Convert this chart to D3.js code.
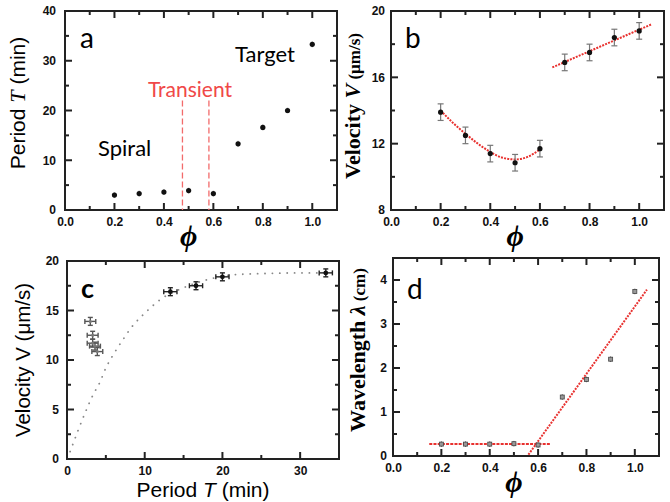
<!DOCTYPE html>
<html>
<head>
<meta charset="utf-8">
<script src="https://cdn.jsdelivr.net/npm/d3@7"></script>
<style>
  body { margin: 0; background: #fff; }
  svg { display: block; }
</style>
</head>
<body>
<div id="chart"></div>
<script>
// data
var phi = [0.2, 0.3, 0.4, 0.5, 0.6, 0.7, 0.8, 0.9, 1.0];
var periodT = [3.0, 3.3, 3.6, 3.9, 3.3, 13.3, 16.6, 20.0, 33.3];
var periodErr = [0.6, 0.6, 0.6, 0.6, 0.6, 0.6, 0.6, 0.6, 0.6];
var velocityV = [13.9, 12.5, 11.4, 10.85, 11.7, 16.9, 17.5, 18.4, 18.8];
var velocityErr = [0.5, 0.5, 0.5, 0.5, 0.5, 0.5, 0.5, 0.5, 0.5];
var wavelength = [0.27, 0.27, 0.27, 0.28, 0.25, 1.34, 1.74, 2.2, 3.74];
var wavelengthErr = [0.04, 0.04, 0.04, 0.04, 0.04, 0.04, 0.04, 0.04, 0.04];
var cPeriodErr = [0.7, 0.7, 0.7, 0.7, 0.7, 0.85, 0.85, 0.85, 0.85];
var cVelocityErr = [0.4, 0.4, 0.4, 0.4, 0.4, 0.4, 0.4, 0.4, 0.4];
var transientPhi = [0.475, 0.582];
var transientTop = 22;
// fitted curves as they appear
var spiralFitPhi = [0.2, 0.25, 0.3, 0.35, 0.4, 0.45, 0.5, 0.55, 0.6];
var spiralFitV = [14.0, 13.25, 12.6, 12.0, 11.5, 11.15, 11.05, 11.2, 11.65];
var targetFitPhi = [0.65, 1.05];
var targetFitV = [16.6, 19.2];
var satCurveT = [0.4, 2.35, 3.3, 4.2, 5.0, 6.0, 7.15, 8.4, 10.1, 12.0, 15.0, 18.0, 21.4, 26, 30, 32.5];
var satCurveV = [0.75, 4.7, 6.4, 7.7, 9.2, 10.6, 12.0, 13.4, 14.8, 16.1, 17.3, 18.1, 18.6, 18.75, 18.8, 18.8];
var lamFlatPhi = [0.15, 0.65];
var lamFlat = [0.27, 0.27];
var lamRisePhi = [0.56, 1.05];
var lamRise = [0.03, 3.78];

var phiMajor = [0, 0.2, 0.4, 0.6, 0.8, 1.0];
var phiMinor = [0.1, 0.3, 0.5, 0.7, 0.9];

var svg = d3.select("#chart").append("svg")
  .attr("width", 670)
  .attr("height", 502);

var red = "#e8312f";
var sans = "'Liberation Sans', Arial, sans-serif";
var serif = "'Liberation Serif', 'Times New Roman', serif";
var label = "Lato, 'Open Sans', sans-serif";

// inward tick marks on all four sides of the box
function tickMarks(g, x, y, w, h, vals, len, horiz) {
  var s = horiz ? x : y;
  vals.forEach(function(v) {
    if (horiz) {
      g.append("line").attr("x1", s(v)).attr("x2", s(v)).attr("y1", h).attr("y2", h - len);
      g.append("line").attr("x1", s(v)).attr("x2", s(v)).attr("y1", 0).attr("y2", len);
    } else {
      g.append("line").attr("x1", 0).attr("x2", len).attr("y1", s(v)).attr("y2", s(v));
      g.append("line").attr("x1", w).attr("x2", w - len).attr("y1", s(v)).attr("y2", s(v));
    }
  });
}

function makePanel(left, top, w, h, xDom, yDom, t) {
  var g = svg.append("g").attr("transform", "translate(" + left + "," + top + ")");
  var x = d3.scaleLinear().domain(xDom).range([0, w]);
  var y = d3.scaleLinear().domain(yDom).range([h, 0]);

  // labels from the axes, marks drawn by hand
  g.append("g").attr("class", "ax").attr("transform", "translate(0," + h + ")")
    .call(d3.axisBottom(x).tickValues(t.xMajor).tickSize(0).tickPadding(7).tickFormat(t.xFmt));
  g.append("g").attr("class", "ax")
    .call(d3.axisLeft(y).tickValues(t.yMajor).tickSize(0).tickPadding(t.yPad || 6).tickFormat(t.yFmt));
  g.selectAll(".ax .domain").remove();
  g.selectAll(".ax .tick line").remove();
  g.selectAll(".ax .tick text")
    .style("font-family", sans).style("font-weight", "bold").style("font-size", "12px").attr("fill", "#111");

  var tg = g.append("g").attr("stroke", "#222").attr("stroke-width", 2);
  tickMarks(tg, x, y, w, h, t.xMajor, 7, true);
  tickMarks(tg, x, y, w, h, t.xMinor, 4, true);
  tickMarks(tg, x, y, w, h, t.yMajor, 7, false);
  tickMarks(tg, x, y, w, h, t.yMinor, 4, false);

  g.append("rect").attr("width", w).attr("height", h)
    .attr("fill", "none").attr("stroke", "#222").attr("stroke-width", 2);
  return {g: g, x: x, y: y};
}

function phiLabel(p) {
  p.g.append("text")
    .attr("x", p.x(0.5)).attr("y", p.y.range()[0] + 36)
    .attr("text-anchor", "middle")
    .style("font-family", serif).style("font-style", "italic").style("font-weight", "bold")
    .style("font-size", "30px")
    .text("ϕ");
}

function yLabel(p, cx, cy, parts) {
  var t = p.g.append("text")
    .attr("transform", "translate(" + cx + "," + cy + ") rotate(-90)")
    .attr("text-anchor", "middle");
  parts.forEach(function(s) {
    var ts = t.append("tspan").text(s.text)
      .style("font-family", s.family).style("font-size", s.size + "px");
    if (s.bold) ts.style("font-weight", "bold");
    if (s.italic) ts.style("font-style", "italic");
  });
  return t;
}

var f1 = d3.format(".1f");
var f0 = d3.format("d");

// ---- panel a ----
var pa = makePanel(65, 11, 272, 199, [0, 1.1], [0, 40], {
  xMajor: phiMajor, xMinor: phiMinor, xFmt: f1,
  yMajor: [0, 10, 20, 30, 40], yMinor: [5, 15, 25, 35], yFmt: f0, yPad: 9
});
pa.g.selectAll(".transient").data(transientPhi).enter().append("line")
  .attr("x1", function(v) { return pa.x(v); }).attr("x2", function(v) { return pa.x(v); })
  .attr("y1", pa.y(transientTop)).attr("y2", pa.y(0))
  .attr("stroke", "#f26b6b").attr("stroke-width", 1.3).attr("stroke-dasharray", "6,3");
pa.g.selectAll(".err").data(phi).enter().append("line")
  .attr("x1", function(v) { return pa.x(v); }).attr("x2", function(v) { return pa.x(v); })
  .attr("y1", function(v, i) { return pa.y(periodT[i] - periodErr[i]); })
  .attr("y2", function(v, i) { return pa.y(periodT[i] + periodErr[i]); })
  .attr("stroke", "#bbb").attr("stroke-width", 1.5);
pa.g.selectAll(".pt").data(phi).enter().append("circle")
  .attr("cx", function(v) { return pa.x(v); })
  .attr("cy", function(v, i) { return pa.y(periodT[i]); })
  .attr("r", 2.6).attr("fill", "#111");
pa.g.append("text").attr("x", 15).attr("y", 37).style("font-family", label).style("font-size", "28px").text("a");
pa.g.append("text").attr("x", 170).attr("y", 51).style("font-family", label).style("font-size", "22px").text("Target");
pa.g.append("text").attr("x", 33).attr("y", 145).style("font-family", label).style("font-size", "22px").text("Spiral");
pa.g.append("text").attr("x", 125).attr("y", 86).attr("text-anchor", "middle")
  .style("font-family", label).style("font-size", "21px").attr("fill", "#f04848").text("Transient");
phiLabel(pa);
yLabel(pa, -40, 92, [
  {text: "Period ", family: sans, size: 21},
  {text: "T", family: serif, size: 22, italic: true},
  {text: " (min)", family: sans, size: 21}
]);

// ---- panel b ----
var pb = makePanel(391, 11, 273, 199, [0, 1.1], [8, 20], {
  xMajor: phiMajor, xMinor: phiMinor, xFmt: f1,
  yMajor: [8, 12, 16, 20], yMinor: [10, 14, 18], yFmt: f0, yPad: 6
});
var fitLine = d3.line().curve(d3.curveMonotoneX);
pb.g.append("path")
  .attr("d", fitLine(spiralFitPhi.map(function(p, i) { return [pb.x(p), pb.y(spiralFitV[i])]; })))
  .attr("fill", "none").attr("stroke", red).attr("stroke-width", 2).attr("stroke-dasharray", "2,1.2");
pb.g.append("path")
  .attr("d", fitLine(targetFitPhi.map(function(p, i) { return [pb.x(p), pb.y(targetFitV[i])]; })))
  .attr("fill", "none").attr("stroke", red).attr("stroke-width", 2).attr("stroke-dasharray", "2,1.2");
var bErr = pb.g.selectAll(".err").data(phi).enter().append("g").attr("stroke", "#777").attr("stroke-width", 1.2);
bErr.append("line")
  .attr("x1", function(v) { return pb.x(v); }).attr("x2", function(v) { return pb.x(v); })
  .attr("y1", function(v, i) { return pb.y(velocityV[i] - velocityErr[i]); })
  .attr("y2", function(v, i) { return pb.y(velocityV[i] + velocityErr[i]); });
[-1, 1].forEach(function(s) {
  bErr.append("line")
    .attr("x1", function(v) { return pb.x(v) - 3; }).attr("x2", function(v) { return pb.x(v) + 3; })
    .attr("y1", function(v, i) { return pb.y(velocityV[i] + s * velocityErr[i]); })
    .attr("y2", function(v, i) { return pb.y(velocityV[i] + s * velocityErr[i]); });
});
pb.g.selectAll(".pt").data(phi).enter().append("circle")
  .attr("cx", function(v) { return pb.x(v); })
  .attr("cy", function(v, i) { return pb.y(velocityV[i]); })
  .attr("r", 2.6).attr("fill", "#111");
pb.g.append("text").attr("x", 14).attr("y", 37).style("font-family", label).style("font-size", "28px").text("b");
phiLabel(pb);
yLabel(pb, -31, 95, [
  {text: "Velocity ", family: serif, size: 22, bold: true},
  {text: "V", family: serif, size: 22, bold: true, italic: true},
  {text: " (μm/s)", family: serif, size: 17, bold: true}
]);

// ---- panel c ----
var pc = makePanel(67, 261, 272, 198, [0, 35], [0, 20], {
  xMajor: [0, 10, 20, 30], xMinor: [5, 15, 25], xFmt: f0,
  yMajor: [0, 5, 10, 15, 20], yMinor: [2.5, 7.5, 12.5, 17.5], yFmt: f0, yPad: 8
});
pc.g.append("path")
  .attr("d", fitLine(satCurveT.map(function(t, i) { return [pc.x(t), pc.y(satCurveV[i])]; })))
  .attr("fill", "none").attr("stroke", "#888").attr("stroke-width", 1.8)
  .attr("stroke-linecap", "round").attr("stroke-dasharray", "0.1,7.3");
var cErr = pc.g.selectAll(".err").data(phi).enter().append("g")
  .attr("stroke", function(v, i) { return i < 5 ? "#555" : "#222"; }).attr("stroke-width", 1.4);
cErr.append("line")
  .attr("x1", function(v, i) { return pc.x(periodT[i] - cPeriodErr[i]); })
  .attr("x2", function(v, i) { return pc.x(periodT[i] + cPeriodErr[i]); })
  .attr("y1", function(v, i) { return pc.y(velocityV[i]); })
  .attr("y2", function(v, i) { return pc.y(velocityV[i]); });
cErr.append("line")
  .attr("x1", function(v, i) { return pc.x(periodT[i]); })
  .attr("x2", function(v, i) { return pc.x(periodT[i]); })
  .attr("y1", function(v, i) { return pc.y(velocityV[i] - cVelocityErr[i]); })
  .attr("y2", function(v, i) { return pc.y(velocityV[i] + cVelocityErr[i]); });
[-1, 1].forEach(function(s) {
  cErr.append("line")
    .attr("x1", function(v, i) { return pc.x(periodT[i] + s * cPeriodErr[i]); })
    .attr("x2", function(v, i) { return pc.x(periodT[i] + s * cPeriodErr[i]); })
    .attr("y1", function(v, i) { return pc.y(velocityV[i]) - 2.5; })
    .attr("y2", function(v, i) { return pc.y(velocityV[i]) + 2.5; });
  cErr.append("line")
    .attr("x1", function(v, i) { return pc.x(periodT[i]) - 2.5; })
    .attr("x2", function(v, i) { return pc.x(periodT[i]) + 2.5; })
    .attr("y1", function(v, i) { return pc.y(velocityV[i] + s * cVelocityErr[i]); })
    .attr("y2", function(v, i) { return pc.y(velocityV[i] + s * cVelocityErr[i]); });
});
pc.g.selectAll(".pt").data(phi).enter().append("circle")
  .attr("cx", function(v, i) { return pc.x(periodT[i]); })
  .attr("cy", function(v, i) { return pc.y(velocityV[i]); })
  .attr("r", function(v, i) { return i < 5 ? 1.5 : 2.4; })
  .attr("fill", function(v, i) { return i < 5 ? "#777" : "#111"; });
pc.g.append("text").attr("x", 14).attr("y", 37).style("font-family", label).style("font-weight", "bold").style("font-size", "27px").text("c");
yLabel(pc, -37, 99, [
  {text: "Velocity V (μm/s)", family: sans, size: 20.5}
]);
pc.g.append("text").attr("x", pc.x(17.5)).attr("y", 236).attr("text-anchor", "middle")
  .style("font-family", sans).style("font-size", "21px")
  .call(function(t) {
    t.append("tspan").text("Period ");
    t.append("tspan").text("T").style("font-style", "italic");
    t.append("tspan").text(" (min)");
  });

// ---- panel d ----
var pd = makePanel(393, 258, 266, 198, [0, 1.1], [0, 4.5], {
  xMajor: phiMajor, xMinor: phiMinor, xFmt: f1,
  yMajor: [0, 1, 2, 3, 4], yMinor: [0.5, 1.5, 2.5, 3.5], yFmt: f0, yPad: 6
});
pd.g.append("path")
  .attr("d", d3.line()(lamFlatPhi.map(function(p, i) { return [pd.x(p), pd.y(lamFlat[i])]; })))
  .attr("fill", "none").attr("stroke", red).attr("stroke-width", 2).attr("stroke-dasharray", "3,1.2");
pd.g.append("path")
  .attr("d", d3.line()(lamRisePhi.map(function(p, i) { return [pd.x(p), pd.y(lamRise[i])]; })))
  .attr("fill", "none").attr("stroke", red).attr("stroke-width", 2).attr("stroke-dasharray", "2,1.2");
var dErr = pd.g.selectAll(".err").data(phi).enter().append("g").attr("stroke", "#555").attr("stroke-width", 1);
dErr.append("line")
  .attr("x1", function(p) { return pd.x(p); }).attr("x2", function(p) { return pd.x(p); })
  .attr("y1", function(p, i) { return pd.y(wavelength[i] - wavelengthErr[i]) + 1; })
  .attr("y2", function(p, i) { return pd.y(wavelength[i] + wavelengthErr[i]) - 1; });
pd.g.selectAll(".pt").data(phi).enter().append("rect")
  .attr("x", function(p) { return pd.x(p) - 2; })
  .attr("y", function(p, i) { return pd.y(wavelength[i]) - 2; })
  .attr("width", 4).attr("height", 4)
  .attr("fill", "#999").attr("stroke", "#444").attr("stroke-width", 0.8);
pd.g.append("text").attr("x", 14).attr("y", 41).style("font-family", label).style("font-size", "28px").text("d");
phiLabel(pd);
yLabel(pd, -28, 92, [
  {text: "Wavelength ", family: serif, size: 22, bold: true},
  {text: "λ", family: serif, size: 22, bold: true, italic: true},
  {text: " (cm)", family: serif, size: 17, bold: true}
]);
</script>
</body>
</html>
